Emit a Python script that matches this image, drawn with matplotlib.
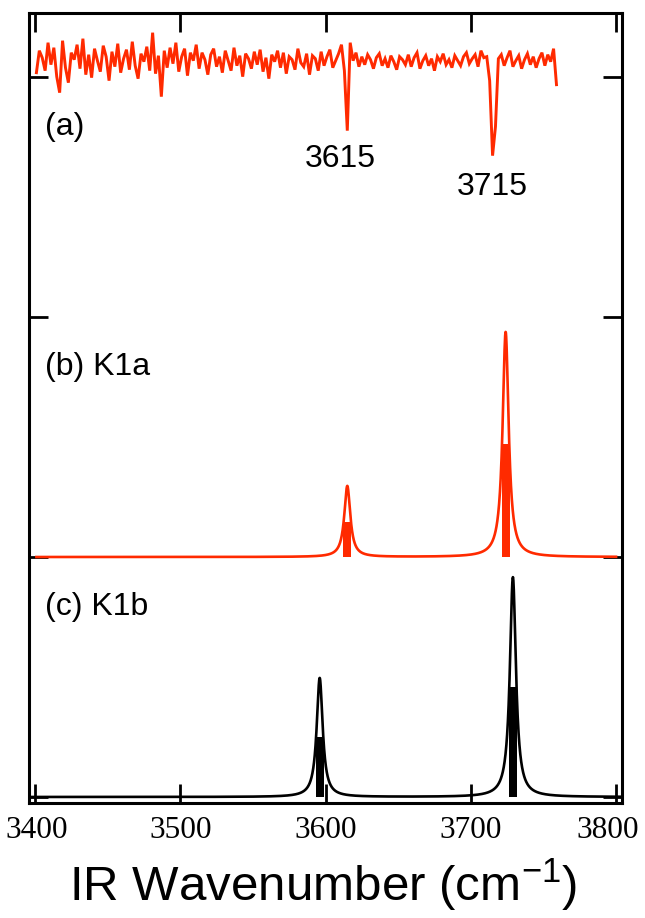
import numpy as np
import matplotlib
matplotlib.use("Agg")
import matplotlib.pyplot as plt
import matplotlib.transforms as mtransforms

# ---------------- data ----------------
# (a) experimental IR depletion trace, sampled every 2 cm-1 from 3401 to 3759 (a.u.)
a_start, a_step = 3401, 2
trace_a = [
    -10, 12, 5, -8, 20, -2, 15, -14, -30, 22,
    -5, -20, 10, 3, 18, -6, 24, -12, 8, -15,
    14, 2, -9, 17, 6, -18, 11, -4, 19, -10,
    4, 13, -7, 21, -3, -16, 9, 1, 16, -8,
    30, -11, 7, -34, 12, -5, 15, -1, 20, -9,
    6, 14, -13, 10, 2, 18,
    -6, 10, 3, -12, 8, 14, -4, 6, -10, 12,
    2, -8, 15, -3, 7, -14, 9, 4, -6, 11,
    -2, 13, -9, 5, -16, 8, 1, 12, -5, 10,
    -11, 6, 3, -7, 14, 0, -4, 9, -12, 7,
    4, -8, 11, -3, 6, 13, -5, 2, 9, 18,
    -8, -68, 20,
    2, 10, -4, 6, -2, 8, 3, -6, 5, 9,
    -3, 4, -5, 7, 1, -7, 6, 3, -2, 8,
    -4, 5, 10, -6, 2, 7, -3, 4, -8, 6,
    1, 9, -2, 3, -5, 7, 2, -3, 6, 10,
    -1, 4, 8, -4, 12, 5,
    6, -18, -93, -64, 4,
    8, -3, 5, 12, -4, 2, 7, -6, 3, 9,
    -2, 6, -5, 4, 10, -3, 8, 1, 14,
    -22,
]
peak_labels = ["3615", "3715"]

# (b) K1a calculated sticks
k1a_freq = [3615, 3724]
k1a_int = [0.148, 0.469]
# (c) K1b calculated sticks
k1b_freq = [3596, 3729]
k1b_int = [0.248, 0.458]

xticks = [3400, 3500, 3600, 3700, 3800]
panel_labels = ["(a)", "(b) K1a", "(c) K1b"]

# ---------------- style ----------------
RED = "#ff2a00"
BLACK = "#000000"
fwhm = 5.0
offset_a, offset_b, offset_c = 3.06, 1.0, 0.0
scale_a = 1 / 240

plt.rcParams["mathtext.fontset"] = "custom"
plt.rcParams["mathtext.rm"] = "Liberation Sans"
plt.rcParams["mathtext.it"] = "Liberation Sans"

fig = plt.figure(figsize=(6.45, 9.18), dpi=100)
ax = fig.add_axes([29 / 645, 1 - 803 / 918, (622 - 29) / 645, (803 - 13) / 918])
ax.set_xlim(3395.9, 3804.1)
ax.set_ylim(-0.025, 3.267)


def broaden(x, freqs, ints):
    g = fwhm / 2
    y = np.zeros_like(x)
    for f, s in zip(freqs, ints):
        y += 2 * s * g ** 2 / ((x - f) ** 2 + g ** 2)
    return y


# (a)
xa = a_start + a_step * np.arange(len(trace_a))
ya = offset_a + np.array(trace_a) * scale_a
ax.plot(xa, ya, color=RED, lw=2.1, solid_joinstyle="miter")

# (b)
xb = np.linspace(3401, 3800, 4000)
ax.plot(xb, offset_b + broaden(xb, k1a_freq, k1a_int), color=RED, lw=1.9)
ax.bar(k1a_freq, k1a_int, width=5.5, bottom=offset_b, color=RED, linewidth=0)

# (c)
xc = np.linspace(3396, 3804, 4000)
ax.plot(xc, offset_c + broaden(xc, k1b_freq, k1b_int), color=BLACK, lw=1.9)
ax.bar(k1b_freq, k1b_int, width=5.5, bottom=offset_c, color=BLACK, linewidth=0)

# labels
fs = 23
ax.text(3407, 2.79, panel_labels[0], fontsize=fs, family="Liberation Sans", va="center", ha="left")
ax.text(3407, 1.79, panel_labels[1], fontsize=fs, family="Liberation Sans", va="center", ha="left")
ax.text(3407, 0.79, panel_labels[2], fontsize=fs, family="Liberation Sans", va="center", ha="left")
ax.text(3610, 2.66, peak_labels[0], fontsize=fs, family="Liberation Sans", va="center", ha="center")
ax.text(3715, 2.54, peak_labels[1], fontsize=fs, family="Liberation Sans", va="center", ha="center")

# axes styling
for sp in ax.spines.values():
    sp.set_linewidth(2.2)
ax.set_xticks(xticks)
ax.set_xticklabels([str(t) for t in xticks], family="Liberation Serif", fontsize=22.5)
ax.set_yticks([0, 1, 2, 3])
ax.set_yticklabels([])
ax.tick_params(axis="both", direction="in", length=14, width=2.0, top=True, right=True)
ax.tick_params(axis="x", pad=9)

# nudge the last tick label inward so it stays inside the figure
last = ax.get_xticklabels()[-1]
last.set_transform(last.get_transform() + mtransforms.ScaledTranslation(-8 / 100, 0, fig.dpi_scale_trans))
first = ax.get_xticklabels()[0]
first.set_transform(first.get_transform() + mtransforms.ScaledTranslation(2 / 100, 0, fig.dpi_scale_trans))

fig.text(0.5, 1 - 885 / 918, r"IR Wavenumber (cm$^{-1}$)", fontsize=35.5,
         family="Liberation Sans", ha="center", va="center")

fig.savefig("out.png", dpi=100)
